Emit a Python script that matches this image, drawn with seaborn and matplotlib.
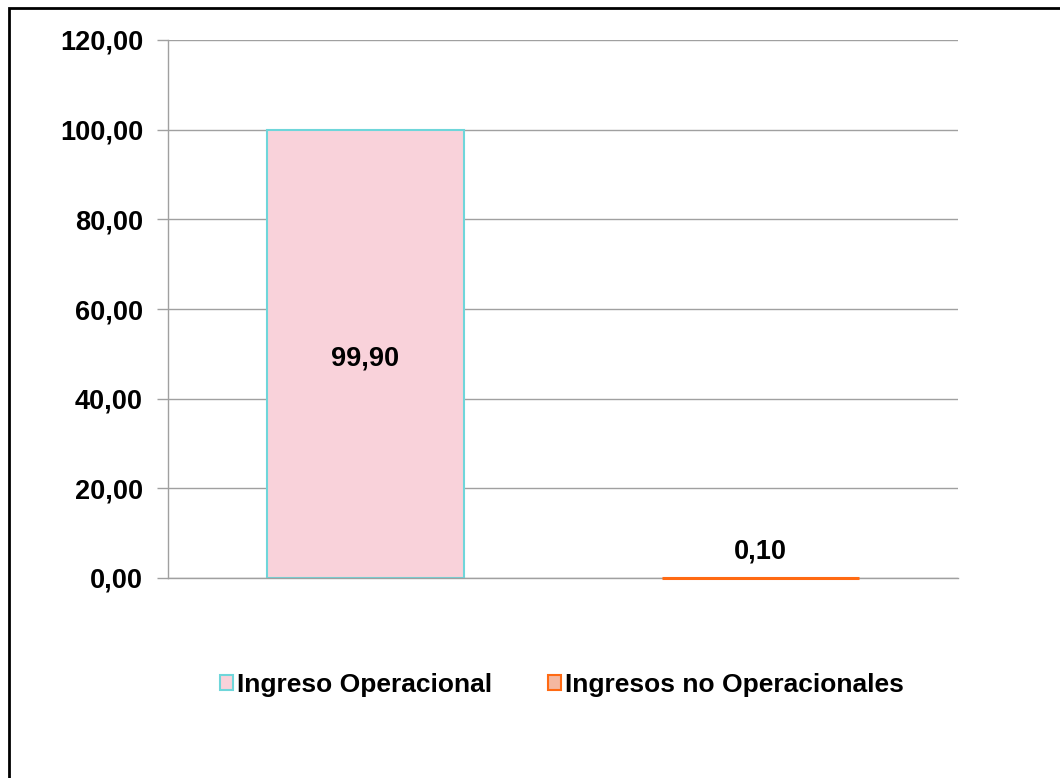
import matplotlib
matplotlib.use("Agg")
import matplotlib.pyplot as plt
import seaborn as sns
import pandas as pd
from matplotlib.patches import Rectangle

categories = ["Ingreso Operacional", "Ingresos no Operacionales"]
values = [99.90, 0.10]
face_colors = ["#F9D2DA", "#F4B8A0"]
edge_colors = ["#6FD6DA", "#FF6A13"]
yticks = [0, 20, 40, 60, 80, 100, 120]

sns.set_theme(style="white")
plt.rcParams['font.family'] = ['Liberation Sans', 'DejaVu Sans']
plt.rcParams['text.color'] = 'black'
plt.rcParams['ytick.labelcolor'] = 'black'

FS = 19.5
LFS = 19

df = pd.DataFrame({"cat": categories, "val": values})

fig = plt.figure(figsize=(10.6, 7.78), dpi=100)
ax = fig.add_axes([168/1060, 1-578/778, 790/1060, 538/778])

sns.barplot(data=df, x="cat", y="val", hue="cat", palette=face_colors,
            width=0.5, ax=ax, legend=False, saturation=1)
for i, (p, ec) in enumerate(zip(ax.patches, edge_colors)):
    p.set_edgecolor(ec)
    p.set_linewidth(1.5)
    if i == 1:
        p.set_zorder(4)
        p.set_linewidth(2.2)
        p.set_clip_on(False)

ax.set_ylim(0, 120)
ax.set_xlim(-0.5, 1.5)
ax.set_yticks(yticks)
ax.set_yticklabels([f"{v:.2f}".replace(".", ",") for v in yticks],
                   fontsize=FS, fontweight="bold", color="black")
ax.tick_params(axis="y", length=8, color="#A0A0A0", width=1, pad=10, left=True)
ax.set_xticks([])
ax.set_xlabel("")
ax.set_ylabel("")
ax.yaxis.grid(True, color="#A0A0A0", linewidth=1)
ax.set_axisbelow(True)
for s in ["top", "right"]:
    ax.spines[s].set_visible(False)
for s in ["left", "bottom"]:
    ax.spines[s].set_color("#A0A0A0")
    ax.spines[s].set_linewidth(1)

# data labels
ax.text(0, values[0] / 2 - 1, f"{values[0]:.2f}".replace(".", ","), ha="center", va="center",
        fontsize=FS, fontweight="bold", color="black")
ax.text(1, values[1] + 3, f"{values[1]:.2f}".replace(".", ","), ha="center", va="bottom",
        fontsize=FS, fontweight="bold", color="black")

# legend
handles = [Rectangle((0, 0), 1, 1, facecolor=fc, edgecolor=ec, linewidth=1.5)
           for fc, ec in zip(face_colors, edge_colors)]
fig.legend(handles, categories, loc="center", bbox_to_anchor=(562/1060, 1-685/778),
           ncol=2, frameon=False, prop={"size": LFS, "weight": "bold"},
           handlelength=0.5, handleheight=0.5, handletextpad=0.15, columnspacing=2.1,
           labelcolor="black")

# outer border
fig.patches.append(Rectangle((9/1060, -0.05), 1.2, 1 - 8/778 + 0.05, transform=fig.transFigure,
                             fill=False, edgecolor="black", linewidth=2))

fig.savefig("out.png", dpi=100)
